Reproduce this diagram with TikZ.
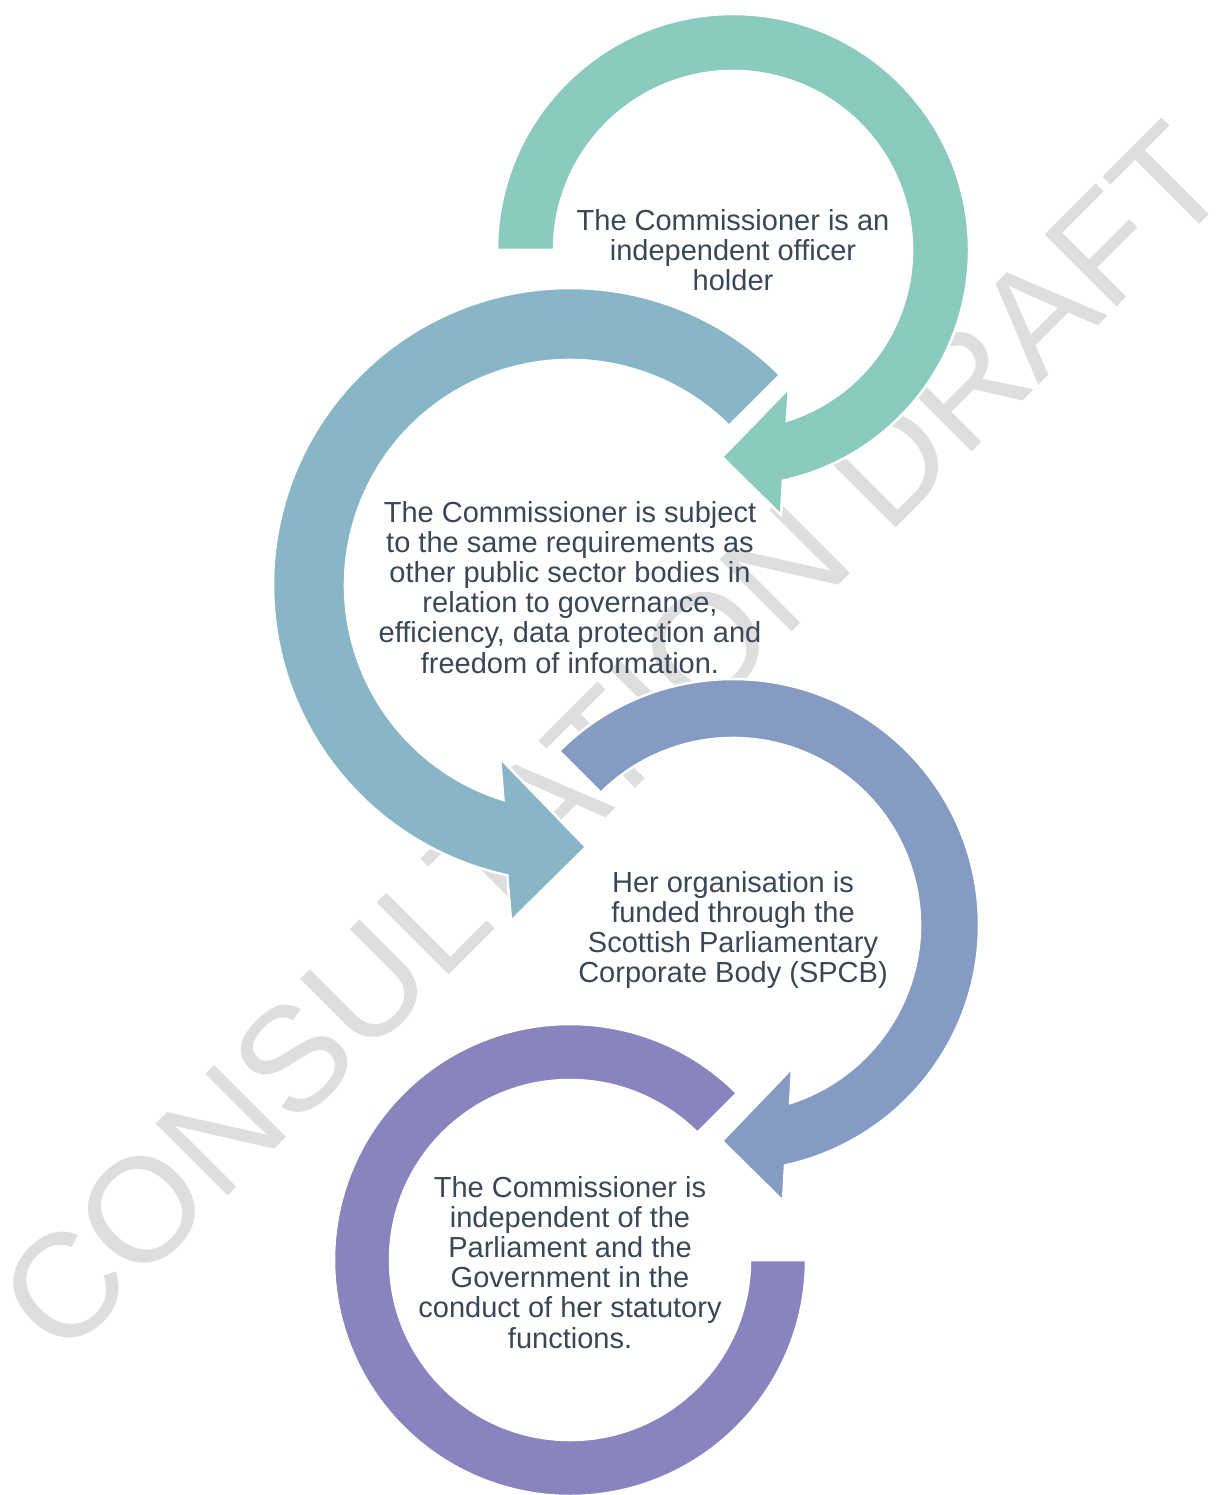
\documentclass[tikz,border=0pt]{standalone}
\usepackage{fontspec}
\setmainfont{Liberation Sans}
\usetikzlibrary{calc}
\definecolor{cteal}{HTML}{8BCABE}
\definecolor{cblue}{HTML}{88B6C6}
\definecolor{cslate}{HTML}{869BC3}
\definecolor{cpurple}{HTML}{8984BE}
\definecolor{wmgray}{HTML}{DEDEDE}
\definecolor{txt}{HTML}{3A4756}
\newcommand\txtfont{\fontsize{29}{30.2}\selectfont}
\newcommand\wmfont{\fontsize{148}{150}\selectfont}
\tikzset{
  ring/.style={draw=white, line width=2.5pt, line join=miter},
  lbl/.style={font=\txtfont, text=txt, align=center, anchor=north, inner sep=0pt},
}
\begin{document}
\begin{tikzpicture}[x=1pt,y=-1pt]
\useasboundingbox (0,0) rectangle (1219,1495);
\clip (0,0) rectangle (1219,1495);
\fill[white] (0,0) rectangle (1219,1495);
% watermark
\node[font=\wmfont, text=wmgray, rotate=45, anchor=base west, inner sep=0pt] (wm) at (62,1362) {CONSULTATION DRAFT};
% centres
\coordinate (c1) at (733,250);
\coordinate (c2) at (570,585);
\coordinate (c3) at (733,925);
\coordinate (c4) at (570,1260);
% teal arrow
\filldraw[ring, fill=cteal] ($(c1)+(180:236)$) arc[start angle=180, end angle=437.8, radius=236]
  -- (781,515) -- (722,457) -- (789,388) -- ($(c1)+(432.5:179)$)
  arc[start angle=432.5, end angle=180, radius=179] -- cycle;
% blue arrow
\filldraw[ring, fill=cblue] ($(c2)+(-45:297)$) arc[start angle=-45, end angle=-257.8, radius=297]
  -- (511,921) -- (586,847) -- (500,758) -- ($(c2)+(-252.8:225)$)
  arc[start angle=-252.8, end angle=-45, radius=225] -- cycle;
% slate arrow
\filldraw[ring, fill=cslate] ($(c3)+(225:246)$) arc[start angle=225, end angle=437.8, radius=246]
  -- (783,1201) -- (722,1141) -- (792,1068) -- ($(c3)+(432.2:187)$)
  arc[start angle=432.2, end angle=225, radius=187] -- cycle;
% purple ring
\filldraw[ring, fill=cpurple] ($(c4)+(-45:236)$) arc[start angle=-45, end angle=-360, radius=236]
  -- ($(c4)+(0:180)$) arc[start angle=-360, end angle=-45, radius=180] -- cycle;
% texts
\node[lbl] (t1) at (733,208.8) {\strut The Commissioner is an\\\strut independent officer\\\strut holder};
\node[lbl] (t2) at (570,500.8) {\strut The Commissioner is subject\\\strut to the same requirements as\\\strut other public sector bodies in\\\strut relation to governance,\\\strut efficiency, data protection and\\\strut freedom of information.};
\node[lbl] (t3) at (733,870.8) {\strut Her organisation is\\\strut funded through the\\\strut Scottish Parliamentary\\\strut Corporate Body (SPCB)};
\node[lbl] (t4) at (570,1175.8) {\strut The Commissioner is\\\strut independent of the\\\strut Parliament and the\\\strut Government in the\\\strut conduct of her statutory\\\strut functions.};
\end{tikzpicture}
\end{document}
